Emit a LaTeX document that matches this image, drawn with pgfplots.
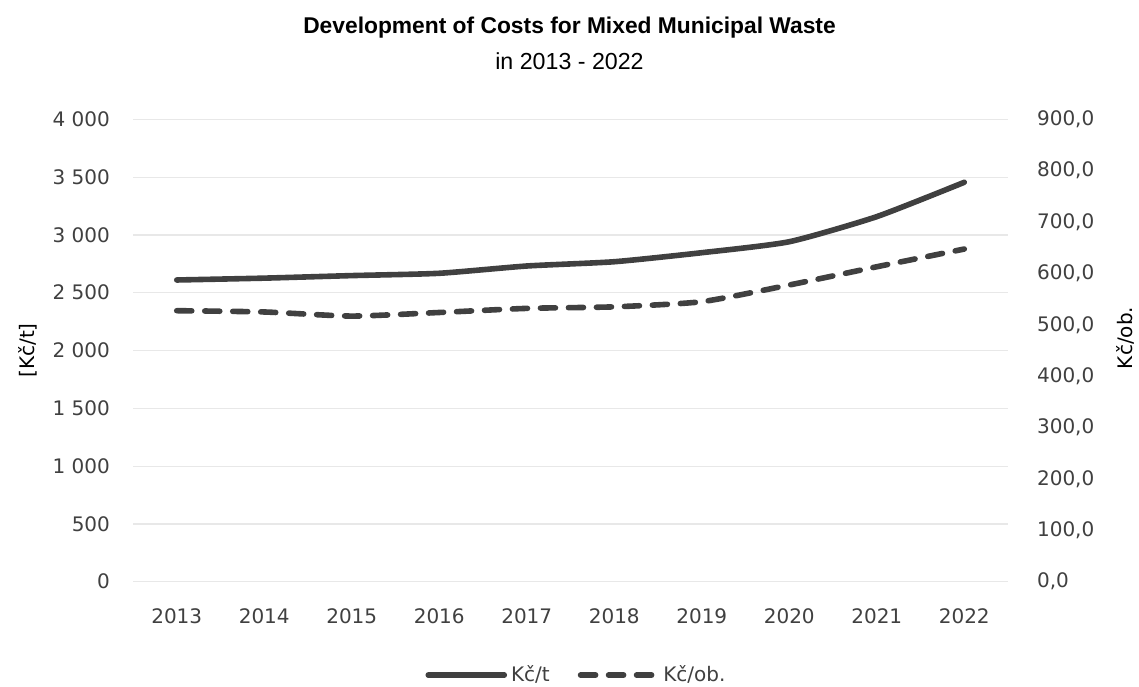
\documentclass[border=0pt]{standalone}
\usepackage{fontspec}
\setmainfont{DejaVu Sans}
\newfontfamily\titlefont{Liberation Sans}
\usepackage{pgfplots}
\pgfplotsset{compat=1.18}
\definecolor{lc}{HTML}{404040}
\definecolor{tc}{HTML}{404040}
\definecolor{gc}{HTML}{E8E8E8}
\pgfplotstableread{
x t ob
0.5 2610 527.5
1.5 2626 525
2.5 2648 517
3.5 2668 524
4.5 2731 532
5.5 2768 535
6.5 2846 545
7.5 2941 577.5
8.5 3158 613
9.5 3455 647.5
}\data
\begin{document}
\begin{tikzpicture}
\path[use as bounding box] (0pt,0pt) rectangle (569.5pt,343pt);
\node[font=\titlefont\bfseries\fontsize{11.4}{13}\selectfont] at (284.75pt,329pt) {Development of Costs for Mixed Municipal Waste};
\node[font=\titlefont\fontsize{11.6}{13}\selectfont] at (284.75pt,312.5pt) {in 2013 - 2022};
\begin{axis}[
  at={(66.5pt,52.15pt)}, anchor=south west,
  scale only axis, width=437.5pt, height=231.2pt,
  xmin=0, xmax=10, ymin=0, ymax=4000,
  xtick={0.5,1.5,...,9.5},
  xticklabels={2013,2014,2015,2016,2017,2018,2019,2020,2021,2022},
  ytick={0,500,...,4000},
  yticklabels={0,500,1 000,1 500,2 000,2 500,3 000,3 500,4 000},
  ymajorgrids, grid style={gc, line width=0.6pt},
  axis line style={draw=none}, tick style={draw=none},
  tick label style={font=\fontsize{10}{12}\selectfont, text=tc},
  xticklabel style={yshift=-10pt},
  yticklabel style={xshift=-8pt},
  ylabel={[Kč/t]}, ylabel style={font=\fontsize{10}{12}\selectfont, text=tc},
  every axis y label/.style={at={(-0.12,0.5)}, rotate=90, anchor=center},
]
\addplot[lc, line width=2.8pt, smooth, tension=0.35, line cap=round] table[x=x,y=t]{\data};
\end{axis}
\begin{axis}[
  at={(66.5pt,52.15pt)}, anchor=south west,
  scale only axis, width=437.5pt, height=231.2pt,
  xmin=0, xmax=10, ymin=0, ymax=900,
  axis x line=none, axis y line*=right,
  ytick={0,100,...,900},
  yticklabels={{0,0},{100,0},{200,0},{300,0},{400,0},{500,0},{600,0},{700,0},{800,0},{900,0}},
  axis line style={draw=none}, tick style={draw=none},
  tick label style={font=\fontsize{10}{12}\selectfont, text=tc},
  yticklabel style={xshift=11pt, anchor=west},
  ylabel={Kč/ob.}, ylabel style={font=\fontsize{10}{12}\selectfont, text=tc},
  every axis y label/.style={at={(1.134,0.527)}, rotate=90, anchor=center},
  legend columns=2,
  legend style={at={(0.508,-0.202)}, anchor=center, draw=none, fill=none,
    font=\fontsize{10}{12}\selectfont, text=tc,
    /tikz/every even column/.append style={column sep=12pt},
    nodes={inner sep=2pt}},
  legend image code/.code={\draw[#1] (0pt,0pt) -- (38pt,0pt);},
]
\addlegendimage{lc, line width=2.8pt, line cap=round}
\addlegendentry{Kč/t}
\addplot[lc, line width=2.8pt, smooth, tension=0.35, line cap=round, dash pattern=on 7.5pt off 6.5pt] table[x=x,y=ob]{\data};
\addlegendentry{Kč/ob.}
\end{axis}
\end{tikzpicture}
\end{document}
